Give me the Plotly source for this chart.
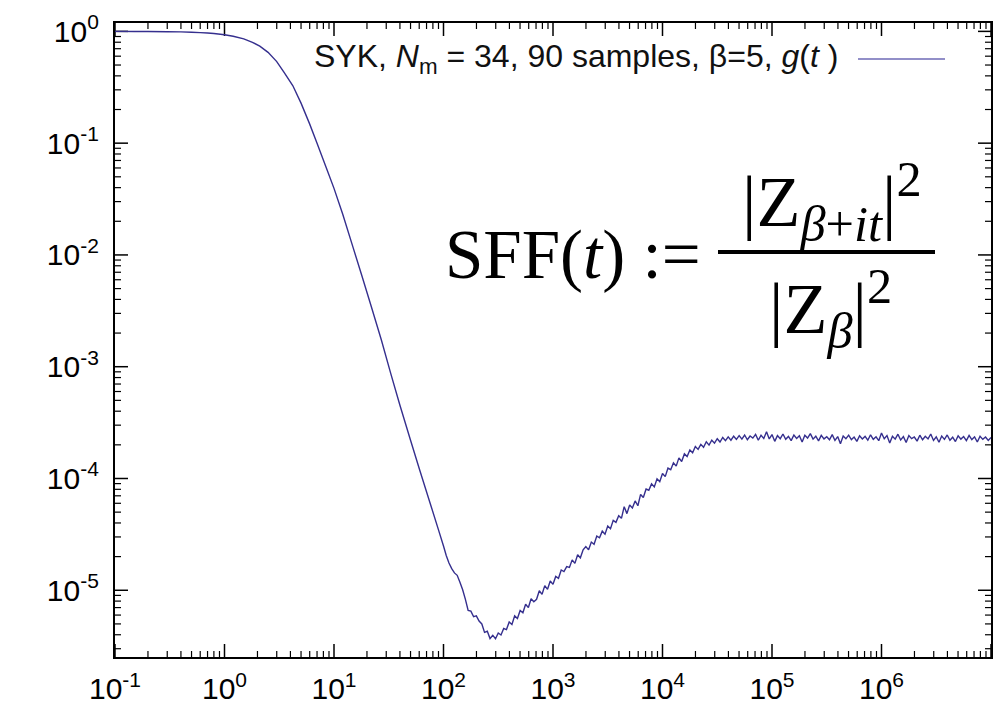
import math
import plotly.graph_objects as go

# ---------------- data ----------------
t_smooth = [0.1, 0.15, 0.2, 0.3, 0.4, 0.5, 0.6, 0.7, 0.8, 1.0, 1.2, 1.5, 1.8, 2.1,
            2.5, 3.0, 3.5, 4.2, 5.0, 6.0, 7.0, 8.5, 10, 12, 15, 18, 22, 27, 33, 40,
            50, 60, 75, 90]
sff_smooth = [0.9993, 0.9985, 0.9972, 0.9938, 0.989, 0.983, 0.9754, 0.967, 0.957, 0.933,
              0.905, 0.856, 0.799, 0.738, 0.649, 0.537, 0.429, 0.328, 0.228, 0.148,
              0.100, 0.0604, 0.0394, 0.0232, 0.0115, 6.49e-3, 3.40e-3, 1.75e-3,
              8.67e-4, 4.52e-4, 2.20e-4, 1.23e-4, 6.14e-5, 3.47e-5]

t_noisy = [
    100, 105.9, 112.2, 118.9, 125.9, 133.4, 141.3, 149.6, 158.5, 167.9,
    177.8, 188.4, 199.5, 211.3, 223.9, 237.1, 251.2, 266.1, 281.8, 298.5,
    316.2, 335.0, 354.8, 375.8, 398.1, 421.7, 446.7, 473.2, 501.2, 530.9,
    562.3, 595.7, 631.0, 668.3, 707.9, 749.9, 794.3, 841.4, 891.3, 944.1,
    1000, 1059, 1122, 1189, 1259, 1334, 1413, 1496, 1585, 1679,
    1778, 1884, 1995, 2113, 2239, 2371, 2512, 2661, 2818, 2985,
    3162, 3350, 3548, 3758, 3981, 4217, 4467, 4732, 5012, 5309,
    5623, 5957, 6310, 6683, 7079, 7499, 7943, 8414, 8913, 9441,
    10000, 10593, 11220, 11885, 12589, 13335, 14125, 14962, 15849, 16788,
    17783, 18836, 19953, 21135, 22387, 23714, 25119, 26607, 28184, 29854,
    31623, 33497, 35481, 37584, 39811, 42170, 44668, 47315, 50119, 53088,
    56234, 59566, 63096, 66834, 70795, 74989, 79433, 84140, 89125, 94406,
    1.000e5, 1.059e5, 1.122e5, 1.189e5, 1.259e5, 1.334e5, 1.413e5, 1.496e5, 1.585e5, 1.679e5,
    1.778e5, 1.884e5, 1.995e5, 2.113e5, 2.239e5, 2.371e5, 2.512e5, 2.661e5, 2.818e5, 2.985e5,
    3.162e5, 3.350e5, 3.548e5, 3.758e5, 3.981e5, 4.217e5, 4.467e5, 4.732e5, 5.012e5, 5.309e5,
    5.623e5, 5.957e5, 6.310e5, 6.683e5, 7.079e5, 7.499e5, 7.943e5, 8.414e5, 8.913e5, 9.441e5,
    1.000e6, 1.059e6, 1.122e6, 1.189e6, 1.259e6, 1.334e6, 1.413e6, 1.496e6, 1.585e6, 1.679e6,
    1.778e6, 1.884e6, 1.995e6, 2.113e6, 2.239e6, 2.371e6, 2.512e6, 2.661e6, 2.818e6, 2.985e6,
    3.162e6, 3.350e6, 3.548e6, 3.758e6, 3.981e6, 4.217e6, 4.467e6, 4.732e6, 5.012e6, 5.309e6,
    5.623e6, 5.957e6, 6.310e6, 6.683e6, 7.079e6, 7.499e6, 7.943e6, 8.414e6, 8.913e6, 9.441e6,
    1.000e7,
]
sff_noisy = [
    2.49e-5, 2.05e-5, 1.75e-5, 1.56e-5, 1.43e-5, 1.36e-5, 1.18e-5, 1.01e-5, 8.3e-6, 6.6e-6,
    6.5e-6, 5.8e-6, 5.9e-6, 5.3e-6, 5.0e-6, 4.2e-6, 4.3e-6, 3.7e-6, 3.95e-6, 3.68e-6,
    4.15e-6, 3.98e-6, 4.55e-6, 4.45e-6, 5.2e-6, 4.95e-6, 5.9e-6, 5.6e-6, 6.6e-6,
    6.3e-6, 7.5e-6, 7.0e-6, 8.4e-6, 7.9e-6, 8.3e-6, 9.9e-6, 9.2e-6, 1.10e-5, 1.02e-5,
    1.21e-5, 1.13e-5, 1.33e-5, 1.28e-5, 1.52e-5, 1.47e-5, 1.63e-5, 1.60e-5, 1.87e-5, 1.74e-5,
    2.08e-5, 1.95e-5, 2.30e-5, 2.46e-5, 2.30e-5, 2.70e-5, 2.58e-5, 3.05e-5, 2.95e-5, 3.38e-5,
    3.18e-5, 3.75e-5, 3.55e-5, 4.22e-5, 4.05e-5, 4.65e-5, 4.40e-5, 5.60e-5, 4.85e-5, 5.80e-5,
    5.45e-5, 6.30e-5, 5.70e-5, 7.20e-5, 6.75e-5, 8.05e-5, 7.85e-5, 8.95e-5, 8.40e-5, 9.95e-5,
    9.35e-5, 1.11e-4, 1.04e-4, 1.24e-4, 1.20e-4, 1.38e-4, 1.29e-4, 1.53e-4, 1.42e-4, 1.66e-4,
    1.57e-4, 1.80e-4, 1.70e-4, 1.93e-4, 1.82e-4, 2.02e-4, 1.90e-4, 2.13e-4, 1.99e-4, 2.20e-4,
    2.07e-4, 2.27e-4, 2.12e-4, 2.33e-4, 2.18e-4, 2.36e-4, 2.20e-4, 2.39e-4, 2.24e-4, 2.42e-4,
    2.25e-4, 2.45e-4, 2.22e-4, 2.40e-4, 2.30e-4, 2.48e-4, 2.20e-4, 2.44e-4, 2.28e-4, 2.62e-4,
    2.26e-4, 2.47e-4, 2.15e-4, 2.42e-4, 2.27e-4, 2.50e-4, 2.24e-4, 2.38e-4, 2.18e-4, 2.45e-4,
    2.28e-4, 2.41e-4, 2.12e-4, 2.44e-4, 2.30e-4, 2.52e-4, 2.25e-4, 2.39e-4, 2.17e-4, 2.43e-4,
    2.26e-4, 2.36e-4, 2.22e-4, 2.47e-4, 2.19e-4, 2.37e-4, 2.05e-4, 2.40e-4, 2.27e-4, 2.44e-4,
    2.23e-4, 2.35e-4, 2.15e-4, 2.41e-4, 2.26e-4, 2.38e-4, 2.20e-4, 2.46e-4, 2.24e-4, 2.36e-4,
    2.18e-4, 2.55e-4, 2.27e-4, 2.42e-4, 2.08e-4, 2.39e-4, 2.25e-4, 2.49e-4, 2.21e-4, 2.37e-4,
    2.10e-4, 2.42e-4, 2.27e-4, 2.35e-4, 2.16e-4, 2.44e-4, 2.22e-4, 2.39e-4, 2.26e-4, 2.50e-4,
    2.19e-4, 2.36e-4, 2.11e-4, 2.40e-4, 2.24e-4, 2.45e-4, 2.20e-4, 2.34e-4, 2.14e-4, 2.41e-4,
    2.25e-4, 2.37e-4, 2.18e-4, 2.43e-4, 2.23e-4, 2.36e-4, 2.12e-4, 2.39e-4, 2.24e-4, 2.35e-4,
    2.19e-4, 2.33e-4,
]
assert len(t_noisy) == len(sff_noisy)

x_tick_vals = [1e-1, 1e0, 1e1, 1e2, 1e3, 1e4, 1e5, 1e6, 1e7]
x_tick_text = ["10<sup>-1</sup>", "10<sup>0</sup>", "10<sup>1</sup>", "10<sup>2</sup>",
               "10<sup>3</sup>", "10<sup>4</sup>", "10<sup>5</sup>", "10<sup>6</sup>",
               "10<sup>7</sup>"]
y_tick_vals = [1e-5, 1e-4, 1e-3, 1e-2, 1e-1, 1e0]
y_tick_text = ["10<sup>-5</sup>", "10<sup>-4</sup>", "10<sup>-3</sup>", "10<sup>-2</sup>",
               "10<sup>-1</sup>", "10<sup>0</sup>"]

legend_label = "SYK, <i>N</i><sub>m</sub> = 34, 90 samples, β=5, <i>g</i>(<i>t</i> )"

X_RANGE = [-1, 7]
Y_RANGE = [-5.597, 0.075]

# minor tick positions (2..9 in each decade, inside the axis range)
x_minor = [m * 10.0 ** k for k in range(-1, 7) for m in range(2, 10)]
y_minor = [m * 10.0 ** k for k in range(-6, 1) for m in range(2, 10)
           if Y_RANGE[0] < math.log10(m * 10.0 ** k) < Y_RANGE[1]]

# ---------------- layout geometry ----------------
W, H = 1005, 708
L, R, T, B = 115, 14, 23, 51
PW, PH = W - L - R, H - T - B
PX_PER_XDEC = PW / (X_RANGE[1] - X_RANGE[0])
PX_PER_YDEC = PH / (Y_RANGE[1] - Y_RANGE[0])
X_LO, X_HI = 10.0 ** X_RANGE[0], 10.0 ** X_RANGE[1]
Y_LO, Y_HI = 10.0 ** Y_RANGE[0], 10.0 ** Y_RANGE[1]


def px(xp):
    return (xp - L) / PW


def py(yp):
    return (H - B - yp) / PH


# ---- inside tick marks, gnuplot style, mirrored on all four sides ----
def tick_segments(xvals, yvals, length):
    kx = 10.0 ** (length / PX_PER_YDEC)   # vertical extent of an x tick
    ky = 10.0 ** (length / PX_PER_XDEC)   # horizontal extent of a y tick
    xs, ys = [], []
    for v in xvals:
        xs += [v, v, None, v, v, None]
        ys += [Y_LO, Y_LO * kx, None, Y_HI, Y_HI / kx, None]
    for v in yvals:
        xs += [X_LO, X_LO * ky, None, X_HI, X_HI / ky, None]
        ys += [v, v, None, v, v, None]
    return xs, ys


LINE_COLOR = "#352f8e"

fig = go.Figure()
for (xv, yv, ln, wd) in ((x_tick_vals, y_tick_vals, 13, 1.5),
                         (x_minor, y_minor, 6, 1.2)):
    tx, ty = tick_segments(xv, yv, ln)
    fig.add_trace(go.Scatter(x=tx, y=ty, mode="lines", connectgaps=False,
                             line=dict(color="black", width=wd),
                             showlegend=False, hoverinfo="skip"))

fig.add_trace(go.Scatter(
    x=t_smooth + t_noisy,
    y=sff_smooth + sff_noisy,
    mode="lines",
    line=dict(color=LINE_COLOR, width=1.4, simplify=False),
    showlegend=False,
    hoverinfo="skip",
))

TICKFONT = dict(family="Liberation Sans, Arial, sans-serif", size=30, color="black")

axis_common = dict(
    type="log", automargin=False,
    showline=True, linecolor="black", linewidth=2.2, mirror=True,
    ticks="", showgrid=False, zeroline=False,
    tickfont=TICKFONT, tickmode="array",
)
fig.update_xaxes(**axis_common, range=X_RANGE, tickvals=x_tick_vals,
                 ticktext=x_tick_text, ticklabelstandoff=4)
fig.update_yaxes(**axis_common, range=Y_RANGE, tickvals=y_tick_vals,
                 ticktext=y_tick_text, ticklabelstandoff=8)

SERIF = "Liberation Serif, Times New Roman, serif"
annotations = [
    dict(text=legend_label, x=px(840), y=py(59), xref="paper", yref="paper",
         xanchor="right", yanchor="middle", showarrow=False,
         font=dict(family="Liberation Sans, Arial, sans-serif", size=32, color="#111")),
    dict(text="SFF(<i>t</i>) :=", x=px(443), y=py(255), xref="paper", yref="paper",
         xanchor="left", yanchor="middle", showarrow=False,
         font=dict(family=SERIF, size=69, color="black")),
    dict(text="|Z<sub><i>β</i>+<i>it</i></sub>|<sup>2</sup>", x=px(832), y=py(201),
         xref="paper", yref="paper", xanchor="center", yanchor="middle", showarrow=False,
         font=dict(family=SERIF, size=72, color="black")),
    dict(text="|Z<sub><i>β</i></sub>|<sup>2</sup>", x=px(830), y=py(308),
         xref="paper", yref="paper", xanchor="center", yanchor="middle", showarrow=False,
         font=dict(family=SERIF, size=72, color="black")),
]

shapes = [
    dict(type="line", xref="paper", yref="paper", x0=px(858), x1=px(945),
         y0=py(59), y1=py(59), line=dict(color="#6e6ab6", width=1.6)),
    dict(type="line", xref="paper", yref="paper", x0=px(718), x1=px(935),
         y0=py(252), y1=py(252), line=dict(color="black", width=4)),
]

fig.update_layout(
    width=W, height=H,
    margin=dict(l=L, r=R, t=T, b=B, pad=0, autoexpand=False),
    paper_bgcolor="white", plot_bgcolor="white",
    annotations=annotations, shapes=shapes,
    showlegend=False,
)

fig.write_html("out.html")
